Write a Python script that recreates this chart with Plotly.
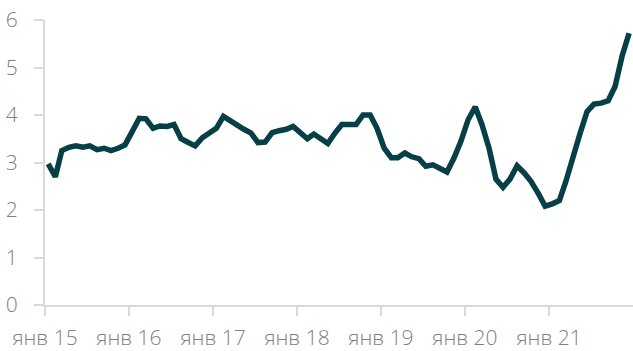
import plotly.graph_objects as go
import pandas as pd

months = pd.date_range("2015-01-01", periods=84, freq="MS") + pd.Timedelta(days=14)

values = [
    2.97, 2.70, 3.25, 3.32, 3.35, 3.32, 3.35, 3.27, 3.30, 3.25, 3.30, 3.37,
    3.65, 3.93, 3.92, 3.72, 3.77, 3.76, 3.80, 3.50, 3.42, 3.35, 3.52, 3.62,
    3.72, 3.97, 3.88, 3.78, 3.70, 3.62, 3.42, 3.43, 3.63, 3.67, 3.70, 3.76,
    3.63, 3.50, 3.60, 3.50, 3.40, 3.62, 3.80, 3.80, 3.80, 4.00, 4.00, 3.72,
    3.30, 3.10, 3.10, 3.20, 3.12, 3.08, 2.92, 2.95, 2.88, 2.80, 3.10, 3.45,
    3.90, 4.17, 3.80, 3.30, 2.65, 2.48, 2.65, 2.93, 2.78, 2.60, 2.35, 2.08,
    2.13, 2.20, 2.60, 3.15, 3.60, 4.07, 4.23, 4.25, 4.30, 4.60, 5.25, 5.72,
]

tick_vals = pd.date_range("2015-01-01", periods=7, freq="YS")
tick_text = ["янв 15", "янв 16", "янв 17", "янв 18", "янв 19", "янв 20", "янв 21"]

fig = go.Figure()
fig.add_trace(go.Scatter(
    x=months, y=values, mode="lines",
    line=dict(color="#073f47", width=5.5, shape="linear"),
    hoverinfo="skip",
))

axis_font = dict(family="Open Sans", size=21, color="#808080", weight=300)

fig.update_layout(
    width=633, height=351,
    margin=dict(l=45, r=0, t=20, b=46),
    paper_bgcolor="white", plot_bgcolor="white",
    showlegend=False,
    xaxis=dict(
        range=["2015-01-01", "2022-01-01"],
        tickvals=tick_vals, ticktext=tick_text,
        ticks="outside", ticklen=9, tickwidth=2, tickcolor="#d9d9d9",
        showline=True, linecolor="#d9d9d9", linewidth=2,
        showgrid=False, zeroline=False, automargin=False,
        tickfont=axis_font, ticklabelstandoff=4,
    ),
    yaxis=dict(
        range=[0, 6], tickvals=[0, 1, 2, 3, 4, 5, 6],
        ticks="outside", ticklen=9, tickwidth=2, tickcolor="#d9d9d9",
        showline=True, linecolor="#d9d9d9", linewidth=2,
        showgrid=False, zeroline=False, automargin=False,
        tickfont=axis_font, ticklabelstandoff=12,
    ),
)

fig.write_html("out.html")
